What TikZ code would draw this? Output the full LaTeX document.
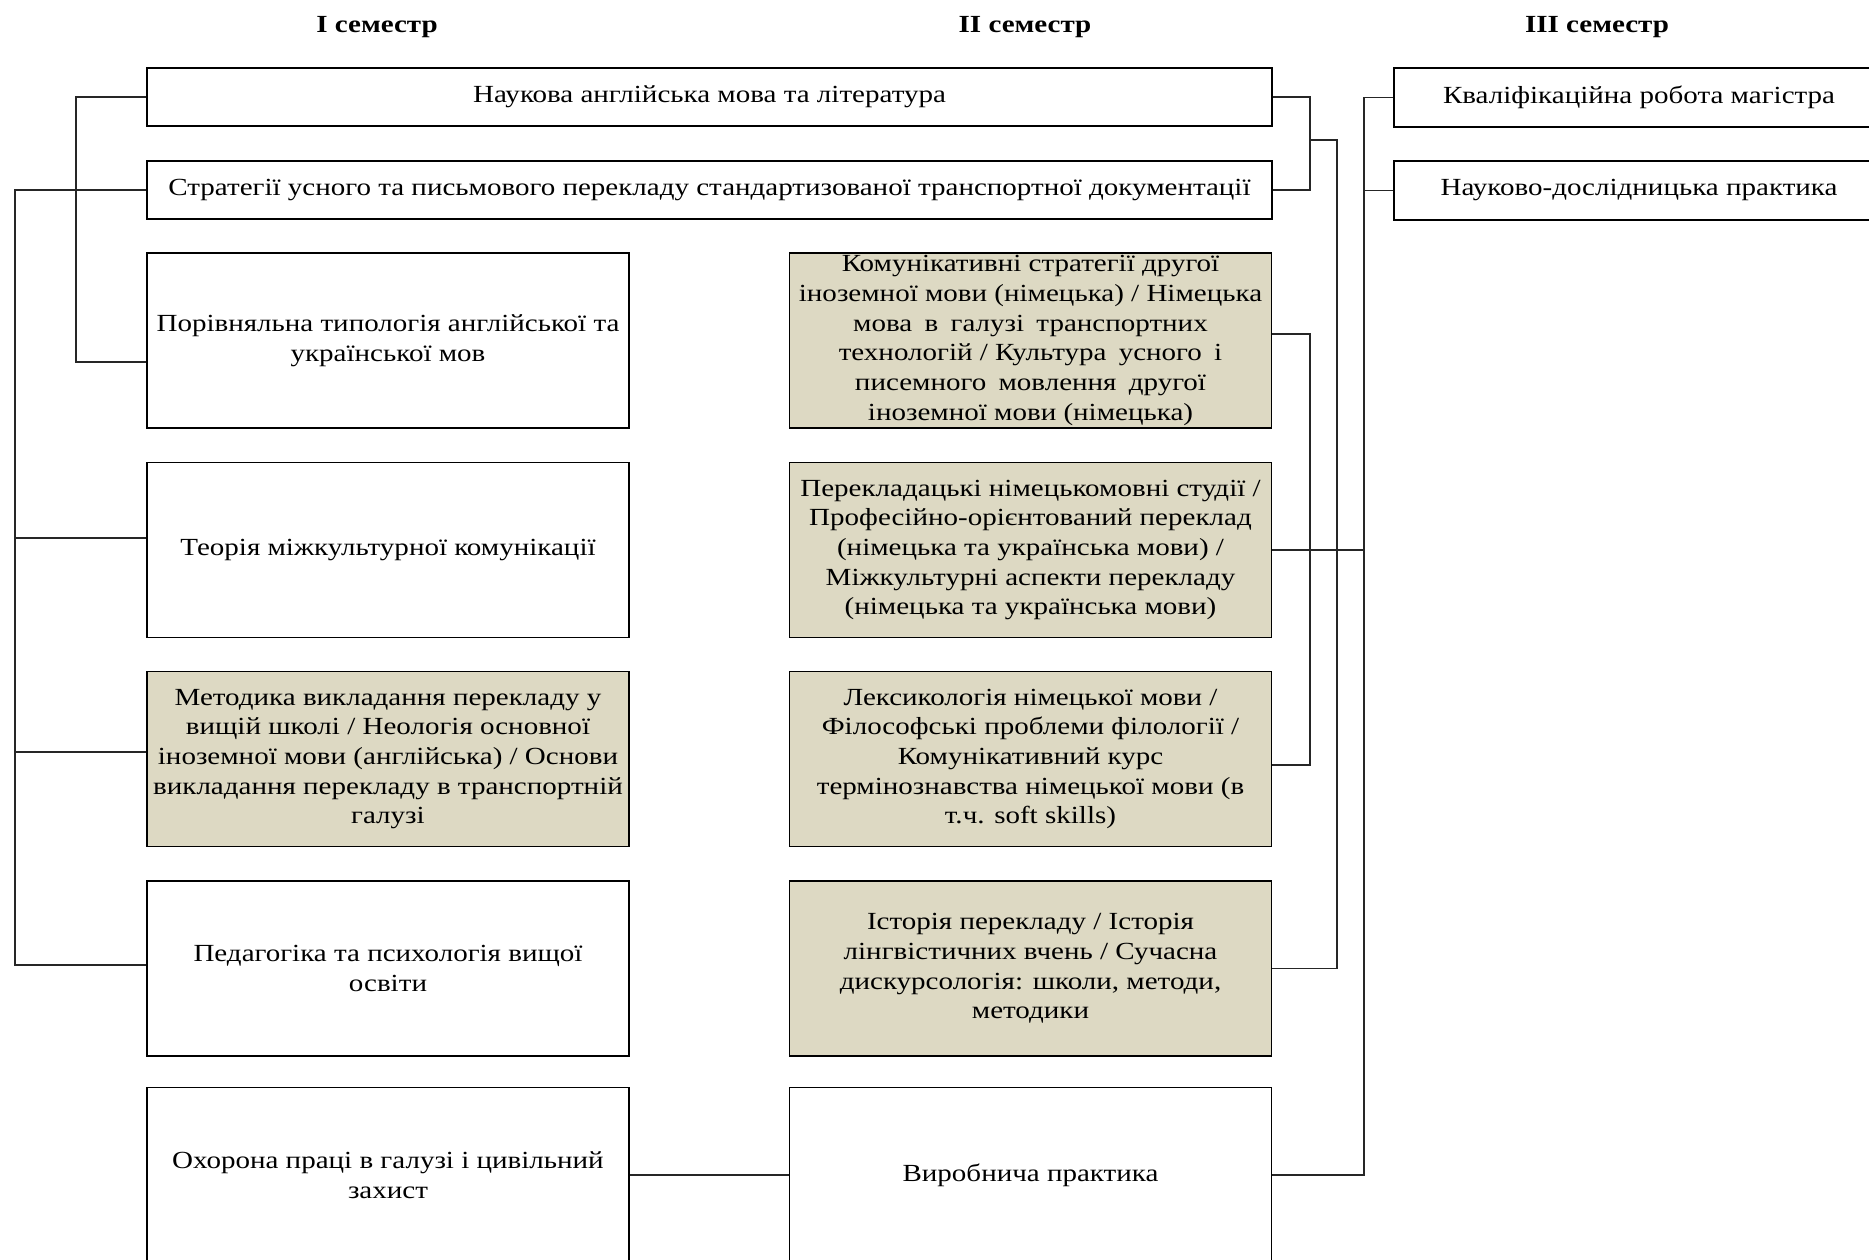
\documentclass[tikz,border=0pt]{standalone}
\usepackage{fontspec}
\setmainfont{Liberation Serif}[FakeStretch=1.18]
\usetikzlibrary{calc}
\definecolor{tanfill}{HTML}{DDD9C3}
\begin{document}
\begin{tikzpicture}[x=0.02cm,y=-0.02cm,
  box/.style={draw=black, line width=0.9pt, rectangle, inner sep=2pt, align=center,
              font=\fontsize{14}{16.9}\selectfont},
  wide/.style={box, minimum width=22.5cm, minimum height=1.16cm},
  cbox/.style={box, minimum width=9.64cm, minimum height=3.5cm},
  tbox/.style={cbox, fill=tanfill},
  ebox/.style={box, minimum width=9.8cm, minimum height=1.18cm},
  hdr/.style={font=\fontsize{14}{16}\selectfont\bfseries, inner sep=0pt},
  conn/.style={draw=black!85, line width=0.8pt}
]
\useasboundingbox (0,0) rectangle (1869,1259);
\clip (0,0) rectangle (1869,1259);

% headers
\node[hdr] (h1) at (377,27) {I семестр};
\node[hdr] (h2) at (1025,27) {II семестр};
\node[hdr] (h3) at (1597,27) {III семестр};

% wide boxes
\node[wide] (A) at (709.5,97) {Наукова англійська мова та література};
\node[wide] (B) at (709.5,190) {Стратегії усного та письмового перекладу стандартизованої транспортної документації};

% column 1
\node[cbox] (C1) at (388,340.5) {Порівняльна типологія англійської та\\української мов};
\node[cbox] (C2) at (388,550) {Теорія міжкультурної комунікації};
\node[tbox] (C3) at (388,759) {Методика викладання перекладу у\\вищій школі / Неологія основної\\іноземної мови (англійська) / Основи\\викладання перекладу в транспортній\\галузі};
\node[cbox] (C4) at (388,968.5) {Педагогіка та психологія вищої\\освіти};
\node[cbox] (C5) at (388,1175) {Охорона праці в галузі і цивільний\\захист};

% column 2
\node[tbox, inner ysep=0pt] (D1) at (1030.5,340.5) {Комунікативні стратегії другої\\іноземної мови (німецька) / Німецька\\мова\enspace в\enspace галузі\enspace транспортних\\технологій / Культура\enspace усного\enspace і\\писемного\enspace мовлення\enspace другої\\іноземної мови (німецька)};
\node[tbox] (D2) at (1030.5,550) {Перекладацькі німецькомовні студії /\\Професійно-орієнтований переклад\\(німецька та українська мови) /\\Міжкультурні аспекти перекладу\\(німецька та українська мови)};
\node[tbox] (D3) at (1030.5,759) {Лексикологія німецької мови /\\Філософські проблеми філології /\\Комунікативний курс\\термінознавства німецької мови (в\\т.ч. soft skills)};
\node[tbox] (D4) at (1030.5,968.5) {Історія перекладу / Історія\\лінгвістичних вчень / Сучасна\\дискурсологія: школи, методи,\\методики};
\node[cbox] (D5) at (1030.5,1175) {Виробнича практика};

% column 3
\node[ebox] (E1) at (1639,97.5) {Кваліфікаційна робота магістра};
\node[ebox] (E2) at (1639,190.5) {Науково-дослідницька практика};

% bus coordinates
\coordinate (ibA) at (76,97);
\coordinate (ibC) at (76,362);
\coordinate (obB) at (15,190);
\coordinate (ob2) at (15,538);
\coordinate (ob3) at (15,752);
\coordinate (ob4) at (15,965);
\coordinate (rA) at (1310,97);
\coordinate (rB) at (1310,190);
\coordinate (rM) at (1310,140);
\coordinate (sM) at (1337,140);
\coordinate (s4) at (1337,968.5);
\coordinate (d1r) at (1310,334);
\coordinate (d3r) at (1310,765);
\coordinate (bTop) at (1364,97.5);
\coordinate (bD2) at (1364,550);
\coordinate (bBot) at (1364,1175);

% left connectors
\draw[conn] (A.west) -- (ibA) -- (ibC) -- (C1.west |- ibC);
\draw[conn] (B.west) -- (obB) -- (ob4) -- (C4.west |- ob4);
\draw[conn] (ob2) -- (C2.west |- ob2);
\draw[conn] (ob3) -- (C3.west |- ob3);

% right connectors of column 2
\draw[conn] (A.east) -- (rA) -- (rB) -- (B.east);
\draw[conn] (rM) -- (sM) -- (s4) -- (D4.east);
\draw[conn] (D1.east |- d1r) -- (d1r) -- (d3r) -- (D3.east |- d3r);
\draw[conn] (D2.east) -- (bD2);
\draw[conn] (E1.west) -- (bTop) -- (bBot) -- (D5.east);
\draw[conn] (bTop |- E2.west) -- (E2.west);

% bottom connector
\draw[conn] (C5.east) -- (D5.west);
\end{tikzpicture}
\end{document}
